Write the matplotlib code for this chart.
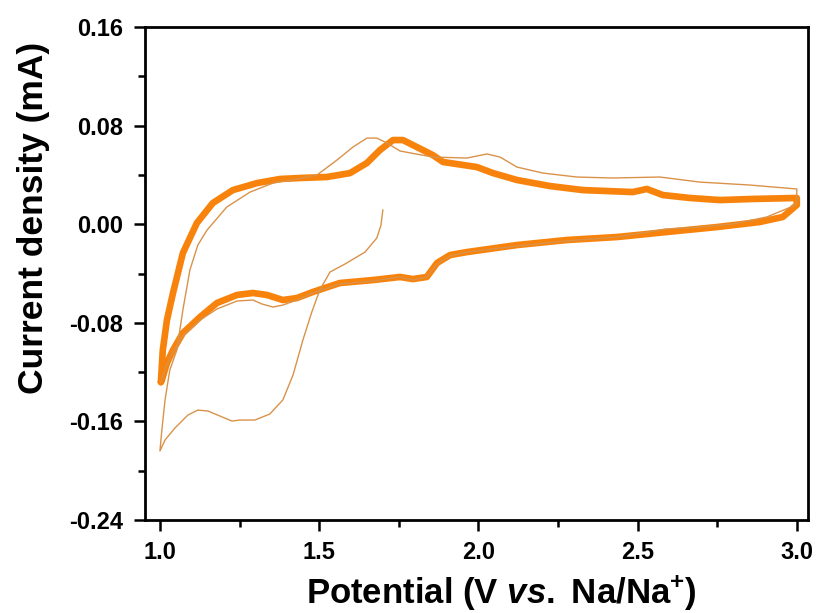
import matplotlib
matplotlib.use('Agg')
import matplotlib.pyplot as plt
from matplotlib.ticker import MultipleLocator, FormatStrFormatter

plt.rcParams['font.family'] = ['Liberation Sans', 'DejaVu Sans']
plt.rcParams['font.weight'] = 'bold'
plt.rcParams['mathtext.fontset'] = 'custom'
plt.rcParams['mathtext.it'] = 'Liberation Sans:italic:bold'
plt.rcParams['mathtext.rm'] = 'Liberation Sans:bold'

# first cycle (thin line): 1.7 V -> 1.0 V -> 3.0 V -> 1.0 V
first_v = [1.700, 1.694, 1.681, 1.644, 1.581, 1.534, 1.502, 1.477, 1.449, 1.418,
           1.386, 1.345, 1.298, 1.251, 1.226, 1.188, 1.151, 1.119, 1.088, 1.047,
           1.016, 1.000,
           1.006, 1.016, 1.031, 1.053, 1.072, 1.094, 1.119, 1.148, 1.210, 1.283,
           1.355, 1.430, 1.493, 1.556, 1.606, 1.650, 1.681, 1.713, 1.754, 1.857,
           1.964, 2.027, 2.068, 2.121, 2.203, 2.309, 2.422, 2.570, 2.695, 2.852,
           3.000,
           3.000, 2.997, 2.906, 2.799, 2.695, 2.588, 2.435, 2.278, 2.121, 1.964,
           1.911, 1.870, 1.838, 1.794, 1.754, 1.669, 1.565, 1.480, 1.430, 1.386,
           1.355, 1.320, 1.292, 1.242, 1.179, 1.126, 1.072, 1.041, 1.019, 1.003]
first_i = [0.0115, -0.0010, -0.0112, -0.0226, -0.0323, -0.0388, -0.0534, -0.0712, -0.0939, -0.1223,
           -0.1426, -0.1540, -0.1589, -0.1589, -0.1597, -0.1556, -0.1516, -0.1508, -0.1548, -0.1654,
           -0.1751, -0.1840,
           -0.1670, -0.1426, -0.1183, -0.1021, -0.0696, -0.0372, -0.0169, -0.0047, 0.0140, 0.0261,
           0.0334, 0.0367, 0.0399, 0.0521, 0.0626, 0.0699, 0.0699, 0.0659, 0.0594, 0.0545,
           0.0537, 0.0570, 0.0545, 0.0464, 0.0415, 0.0383, 0.0375, 0.0383, 0.0342, 0.0318,
           0.0286,
           0.0196, 0.0156, 0.0059, 0.0002, -0.0023, -0.0039, -0.0104, -0.0136, -0.0177, -0.0226,
           -0.0258, -0.0323, -0.0428, -0.0453, -0.0428, -0.0461, -0.0485, -0.0558, -0.0615, -0.0656,
           -0.0672, -0.0647, -0.0615, -0.0623, -0.0688, -0.0777, -0.0907, -0.1037, -0.1151, -0.1281]

# following cycles (thick band)
cycle_v = [1.003, 1.009, 1.022, 1.041, 1.072, 1.116, 1.166, 1.229, 1.305, 1.377,
           1.440, 1.524, 1.597, 1.650, 1.691, 1.732, 1.763, 1.807, 1.857, 1.889,
           1.995, 2.046, 2.121, 2.224, 2.328, 2.485, 2.529, 2.579, 2.664, 2.758,
           2.862, 3.000,
           3.000, 2.956, 2.884, 2.749, 2.592, 2.435, 2.278, 2.121, 1.964, 1.911,
           1.870, 1.838, 1.794, 1.754, 1.669, 1.565, 1.480, 1.430, 1.386, 1.336,
           1.292, 1.242, 1.179, 1.126, 1.072, 1.041, 1.022, 1.006]
cycle_i = [-0.1281, -0.1021, -0.0777, -0.0558, -0.0234, 0.0010, 0.0172, 0.0277, 0.0334, 0.0367,
           0.0375, 0.0383, 0.0415, 0.0497, 0.0602, 0.0683, 0.0683, 0.0626, 0.0561, 0.0505,
           0.0464, 0.0415, 0.0359, 0.0310, 0.0277, 0.0261, 0.0286, 0.0237, 0.0213, 0.0196,
           0.0205, 0.0213,
           0.0156, 0.0059, 0.0018, -0.0023, -0.0063, -0.0104, -0.0128, -0.0169, -0.0226, -0.0250,
           -0.0315, -0.0428, -0.0445, -0.0428, -0.0453, -0.0477, -0.0550, -0.0599, -0.0615, -0.0574,
           -0.0558, -0.0574, -0.0639, -0.0753, -0.0883, -0.1021, -0.1126, -0.1264]

x_ticks = [1.0, 1.5, 2.0, 2.5, 3.0]
y_ticks = [0.16, 0.08, 0.00, -0.08, -0.16, -0.24]

fig = plt.figure(figsize=(8.2, 6.13), dpi=100)
ax = fig.add_axes([0.1768, 0.1517, 0.8085, 0.8042])

ax.plot(cycle_v + cycle_v[:1], cycle_i + cycle_i[:1], color='#F8830C', lw=4.8,
        solid_joinstyle='round', solid_capstyle='round')
ax.plot(first_v, first_i, color='#D9924A', lw=1.0)

ax.set_xlim(0.953, 3.035)
ax.set_ylim(-0.24, 0.16)
ax.set_xticks(x_ticks)
ax.set_yticks(y_ticks)
ax.xaxis.set_minor_locator(MultipleLocator(0.25))
ax.yaxis.set_minor_locator(MultipleLocator(0.04))
ax.yaxis.set_major_formatter(FormatStrFormatter('%.2f'))
ax.xaxis.set_major_formatter(FormatStrFormatter('%.1f'))

ax.tick_params(which='both', direction='out', top=False, right=False, width=1.8)
ax.tick_params(which='major', length=8, labelsize=17)
ax.tick_params(axis='y', which='major', pad=8)
ax.tick_params(axis='x', which='major', pad=7)
ax.tick_params(which='minor', length=5)
for s in ax.spines.values():
    s.set_linewidth(2.0)

ax.set_xlabel('Potential (V $vs.$ Na/Na$^{+}$)', fontsize=25, fontweight='bold')
ax.set_ylabel('Current density (mA)', fontsize=25.5, fontweight='bold')
ax.xaxis.set_label_coords(0.538, -0.108)
ax.yaxis.set_label_coords(-0.143, 0.613)

fig.savefig('out.png', dpi=100)
